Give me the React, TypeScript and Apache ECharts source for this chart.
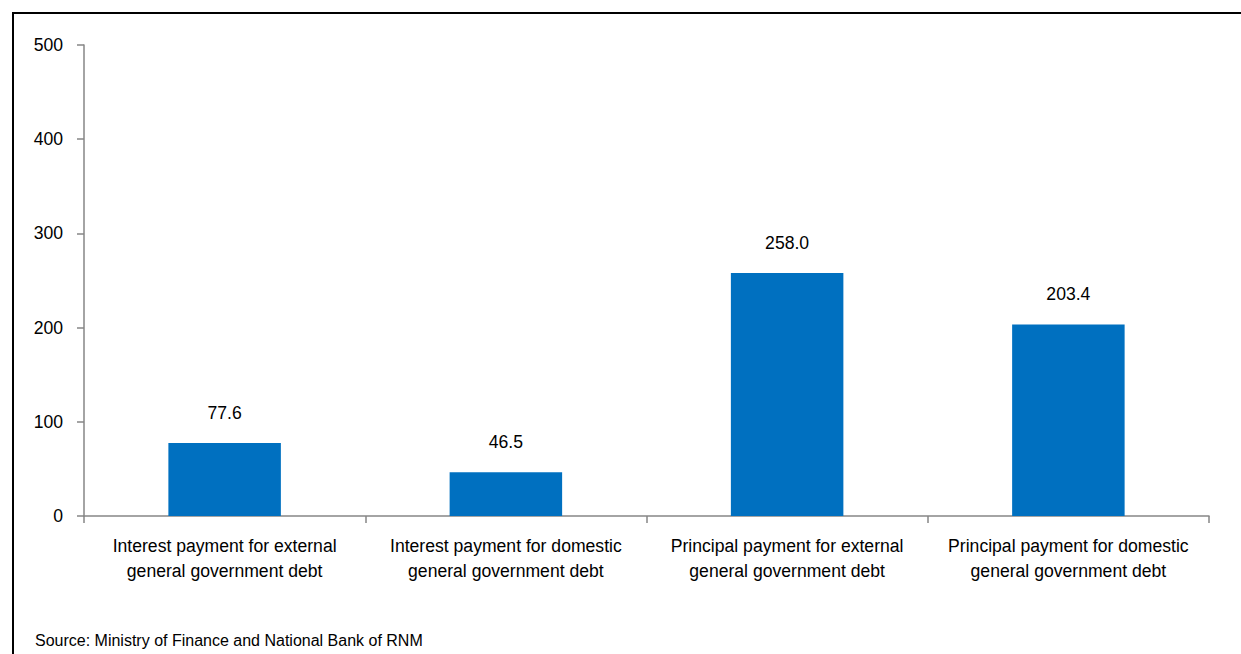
import React, { useEffect, useRef } from "react";
import * as echarts from "echarts";

const categories = [
  "Interest payment for external\ngeneral government debt",
  "Interest payment for domestic\ngeneral government debt",
  "Principal payment for external\ngeneral government debt",
  "Principal payment for domestic\ngeneral government debt",
];
const values = [77.6, 46.5, 258.0, 203.4];
const sourceText = "Source: Ministry of Finance and National Bank of RNM";

const FONT = "'Liberation Sans', Arial, sans-serif";
const FS = 17.6;

export default function App() {
  const ref = useRef<HTMLDivElement>(null);
  useEffect(() => {
    if (!ref.current) return;
    const chart = echarts.init(ref.current, undefined, { renderer: "svg" });
    chart.setOption({
      animation: false,
      backgroundColor: "#ffffff",
      grid: { left: 84, right: 32, top: 45, bottom: 138, containLabel: false },
      graphic: [
        {
          type: "rect",
          shape: { x: 13, y: 13, width: 1260, height: 680 },
          style: { fill: "none", stroke: "#000000", lineWidth: 2 },
          silent: true,
        },
        {
          type: "text",
          left: 35,
          top: 632,
          style: { text: sourceText, font: `16px ${FONT}`, fill: "#000000" },
        },
      ],
      xAxis: {
        type: "category",
        data: categories,
        boundaryGap: true,
        axisLine: { lineStyle: { color: "#868686", width: 1.5 } },
        axisTick: { show: true, alignWithLabel: false, length: 7, lineStyle: { color: "#868686", width: 1.5 } },
        axisLabel: {
          color: "#000000",
          fontFamily: FONT,
          fontSize: FS,
          lineHeight: 25,
          margin: 17,
          interval: 0,
        },
      },
      yAxis: {
        type: "value",
        min: 0,
        max: 500,
        interval: 100,
        splitLine: { show: false },
        axisLine: { show: true, lineStyle: { color: "#868686", width: 1.5 } },
        axisTick: { show: true, length: 7, lineStyle: { color: "#868686", width: 1.5 } },
        axisLabel: { color: "#000000", fontFamily: FONT, fontSize: FS, margin: 21 },
      },
      series: [
        {
          type: "bar",
          data: values,
          barWidth: "40%",
          itemStyle: { color: "#0070C0" },
          label: {
            show: true,
            position: "top",
            distance: 21,
            color: "#000000",
            fontFamily: FONT,
            fontSize: FS,
            formatter: (p: any) => Number(p.value).toFixed(1),
          },
        },
      ],
    });
    return () => chart.dispose();
  }, []);
  return (
    <div
      ref={ref}
      style={{ position: "fixed", left: 0, top: 0, width: 1241, height: 654, overflow: "hidden" }}
    />
  );
}
